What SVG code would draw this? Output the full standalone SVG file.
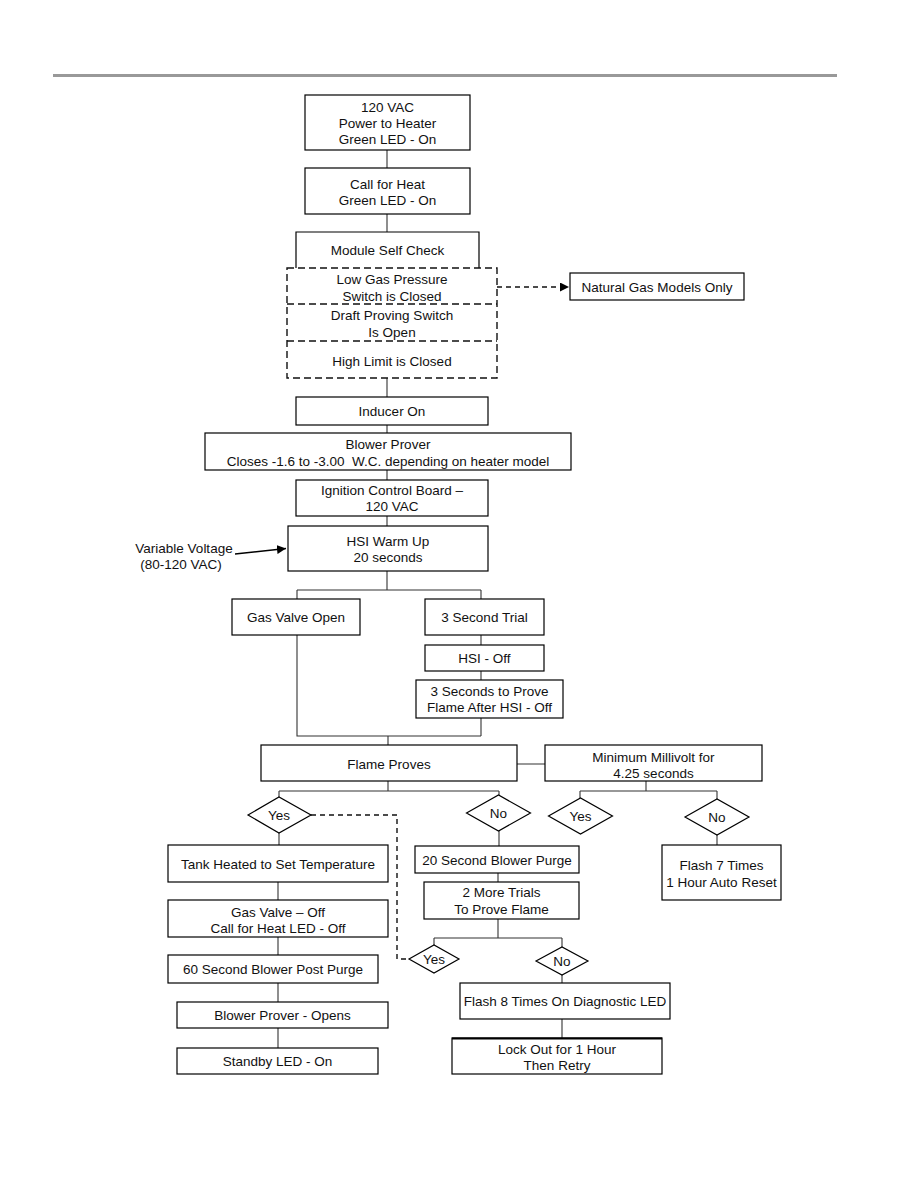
<svg xmlns="http://www.w3.org/2000/svg" width="918" height="1188" viewBox="0 0 918 1188">
<defs>
<style>
.b{fill:#fff;stroke:#000;stroke-width:1.2}
.d{fill:none;stroke:#111;stroke-width:1.4;stroke-dasharray:7,4}
.c{fill:none;stroke:#333;stroke-width:1.1}
.cd{fill:none;stroke:#111;stroke-width:1.4;stroke-dasharray:5,4}
text{font-family:"Liberation Sans",Arial,sans-serif;font-size:13.5px;fill:#111;text-anchor:middle}
</style>
<marker id="ah" viewBox="0 0 10 10" refX="10" refY="5" markerWidth="9" markerHeight="9" markerUnits="userSpaceOnUse" orient="auto">
<path d="M0,0 L10,5 L0,10 z" fill="#000"/>
</marker>
</defs>
<rect width="918" height="1188" fill="#fff"/>
<line x1="53" y1="75.5" x2="837" y2="75.5" stroke="#999" stroke-width="3"/>

<g id="connectors">
<path class="c" d="M387,150V168M387,214V232M387,378V397M387,425V433M387,470V480M387,516V526M387,571V590M297,590H481M297,590V599M481,590V599M481,635V645M481,671V680M297,635V736H481M481,718V736M388,736V745M517,764H545"/>
<path class="c" d="M388,781V791M279,791H499M279,791V797M499,791V795M499,831V846M498,873V882M498,919V938M434,938H562M434,938V945M562,938V947M562,975V983M562,1019V1038"/>
<path class="c" d="M646,781V791M580,791H717M580,791V798M717,791V799M717,835V845"/>
<path class="c" d="M279,833V845M278,882V900M278,937V955M278,983V1002M278,1028V1048"/>
<path class="cd" d="M497,287H569" marker-end="url(#ah)"/>
<path class="cd" d="M311,815H397V959H409"/>
<path d="M235,554L286,548.5" stroke="#000" stroke-width="1.6" fill="none" marker-end="url(#ah)"/>
</g>

<g id="n-power"><rect class="b" x="305" y="95" width="165" height="55"/><text x="387.5" y="111.5">120 VAC</text><text x="387.5" y="127.5">Power to Heater</text><text x="387.5" y="143.5">Green LED - On</text></g>
<g id="n-callheat"><rect class="b" x="305" y="168" width="165" height="46"/><text x="387.5" y="188.5">Call for Heat</text><text x="387.5" y="204.5">Green LED - On</text></g>
<g id="n-selfcheck"><path d="M296,268V232H479V268" fill="#fff" stroke="#000" stroke-width="1.2"/><text x="387.5" y="254.5">Module Self Check</text></g>
<g id="n-checks">
<rect class="d" x="287" y="268" width="210" height="110"/>
<line class="d" x1="287" y1="304" x2="497" y2="304"/>
<line class="d" x1="287" y1="341" x2="497" y2="341"/>
<text x="392" y="283.5">Low Gas Pressure</text><text x="392" y="300.5">Switch is Closed</text>
<text x="392" y="319.5">Draft Proving Switch</text><text x="392" y="336.5">Is Open</text>
<text x="392" y="365.5">High Limit is Closed</text>
</g>
<g id="n-natgas"><rect class="b" x="570" y="273" width="174" height="27"/><text x="657" y="291.5">Natural Gas Models Only</text></g>
<g id="n-inducer"><rect class="b" x="296" y="397" width="192" height="28"/><text x="392" y="415.5">Inducer On</text></g>
<g id="n-blowerprover"><rect class="b" x="205" y="433" width="366" height="37"/><text x="388" y="448.5">Blower Prover</text><text x="388" y="466">Closes -1.6 to -3.00&#160; W.C. depending on heater model</text></g>
<g id="n-ignition"><rect class="b" x="296" y="480" width="192" height="36"/><text x="392" y="494.5">Ignition Control Board –</text><text x="392" y="510.5">120 VAC</text></g>
<g id="n-hsi"><rect class="b" x="288" y="526" width="200" height="45"/><text x="388" y="545.5">HSI Warm Up</text><text x="388" y="561.5">20 seconds</text></g>
<g id="n-varvolt"><text x="184" y="552.5">Variable Voltage</text><text x="181" y="569">(80-120 VAC)</text></g>
<g id="n-gasvalve"><rect class="b" x="232" y="599" width="128" height="36"/><text x="296" y="621.5">Gas Valve Open</text></g>
<g id="n-trial"><rect class="b" x="425" y="599" width="119" height="36"/><text x="484.5" y="621.5">3 Second Trial</text></g>
<g id="n-hsioff"><rect class="b" x="425" y="645" width="119" height="26"/><text x="484.5" y="662.5">HSI - Off</text></g>
<g id="n-prove3"><rect class="b" x="416" y="680" width="147" height="38"/><text x="489.5" y="695.5">3 Seconds to Prove</text><text x="489.5" y="711.5">Flame After HSI - Off</text></g>
<g id="n-flameproves"><rect class="b" x="261" y="745" width="256" height="36"/><text x="389" y="768.5">Flame Proves</text></g>
<g id="n-millivolt"><rect class="b" x="545" y="745" width="217" height="36"/><text x="653.5" y="761.5">Minimum Millivolt for</text><text x="653.5" y="777.5">4.25 seconds</text></g>
<g id="n-yes1"><polygon class="b" points="248,815 279,797 311,815 279,833"/><text x="279" y="819.5">Yes</text></g>
<g id="n-no1"><polygon class="b" points="466.5,813 498.5,795 530.5,813 498.5,831"/><text x="498.5" y="817.5">No</text></g>
<g id="n-yes2"><polygon class="b" points="548.5,816 580.5,798 612.5,816 580.5,834"/><text x="580.5" y="820.5">Yes</text></g>
<g id="n-no2"><polygon class="b" points="685,817 717,799 749,817 717,835"/><text x="717" y="821.5">No</text></g>
<g id="n-flash7"><rect class="b" x="662" y="845" width="119" height="55"/><text x="721.5" y="869.5">Flash 7 Times</text><text x="721.5" y="886.5">1 Hour Auto Reset</text></g>
<g id="n-tank"><rect class="b" x="168" y="845" width="220" height="37"/><text x="278" y="868.5">Tank Heated to Set Temperature</text></g>
<g id="n-gasoff"><rect class="b" x="168" y="900" width="220" height="37"/><text x="278" y="916.5">Gas Valve – Off</text><text x="278" y="932.5">Call for Heat LED - Off</text></g>
<g id="n-postpurge"><rect class="b" x="168" y="955" width="210" height="28"/><text x="273" y="973.5">60 Second Blower Post Purge</text></g>
<g id="n-opens"><rect class="b" x="177" y="1002" width="211" height="26"/><text x="282.5" y="1019.5">Blower Prover - Opens</text></g>
<g id="n-standby"><rect class="b" x="177" y="1048" width="201" height="26"/><text x="277.5" y="1065.5">Standby LED - On</text></g>
<g id="n-purge20"><rect class="b" x="415" y="846" width="164" height="27"/><text x="497" y="864.5">20 Second Blower Purge</text></g>
<g id="n-trials2"><rect class="b" x="424" y="882" width="155" height="37"/><text x="501.5" y="896.5">2 More Trials</text><text x="501.5" y="913.5">To Prove Flame</text></g>
<g id="n-yes3"><polygon class="b" points="409,959 434,945 459,959 434,973"/><text x="434" y="963.5">Yes</text></g>
<g id="n-no3"><polygon class="b" points="536,961 562,947 588,961 562,975"/><text x="562" y="965.5">No</text></g>
<g id="n-flash8"><rect class="b" x="460" y="983" width="210" height="36"/><text x="565" y="1005.5">Flash 8 Times On Diagnostic LED</text></g>
<g id="n-lockout"><rect class="b" x="452" y="1038" width="210" height="36"/><line x1="452" y1="1038.5" x2="662" y2="1038.5" stroke="#000" stroke-width="2"/><text x="557" y="1053.5">Lock Out for 1 Hour</text><text x="557" y="1069.5">Then Retry</text></g>
</svg>
